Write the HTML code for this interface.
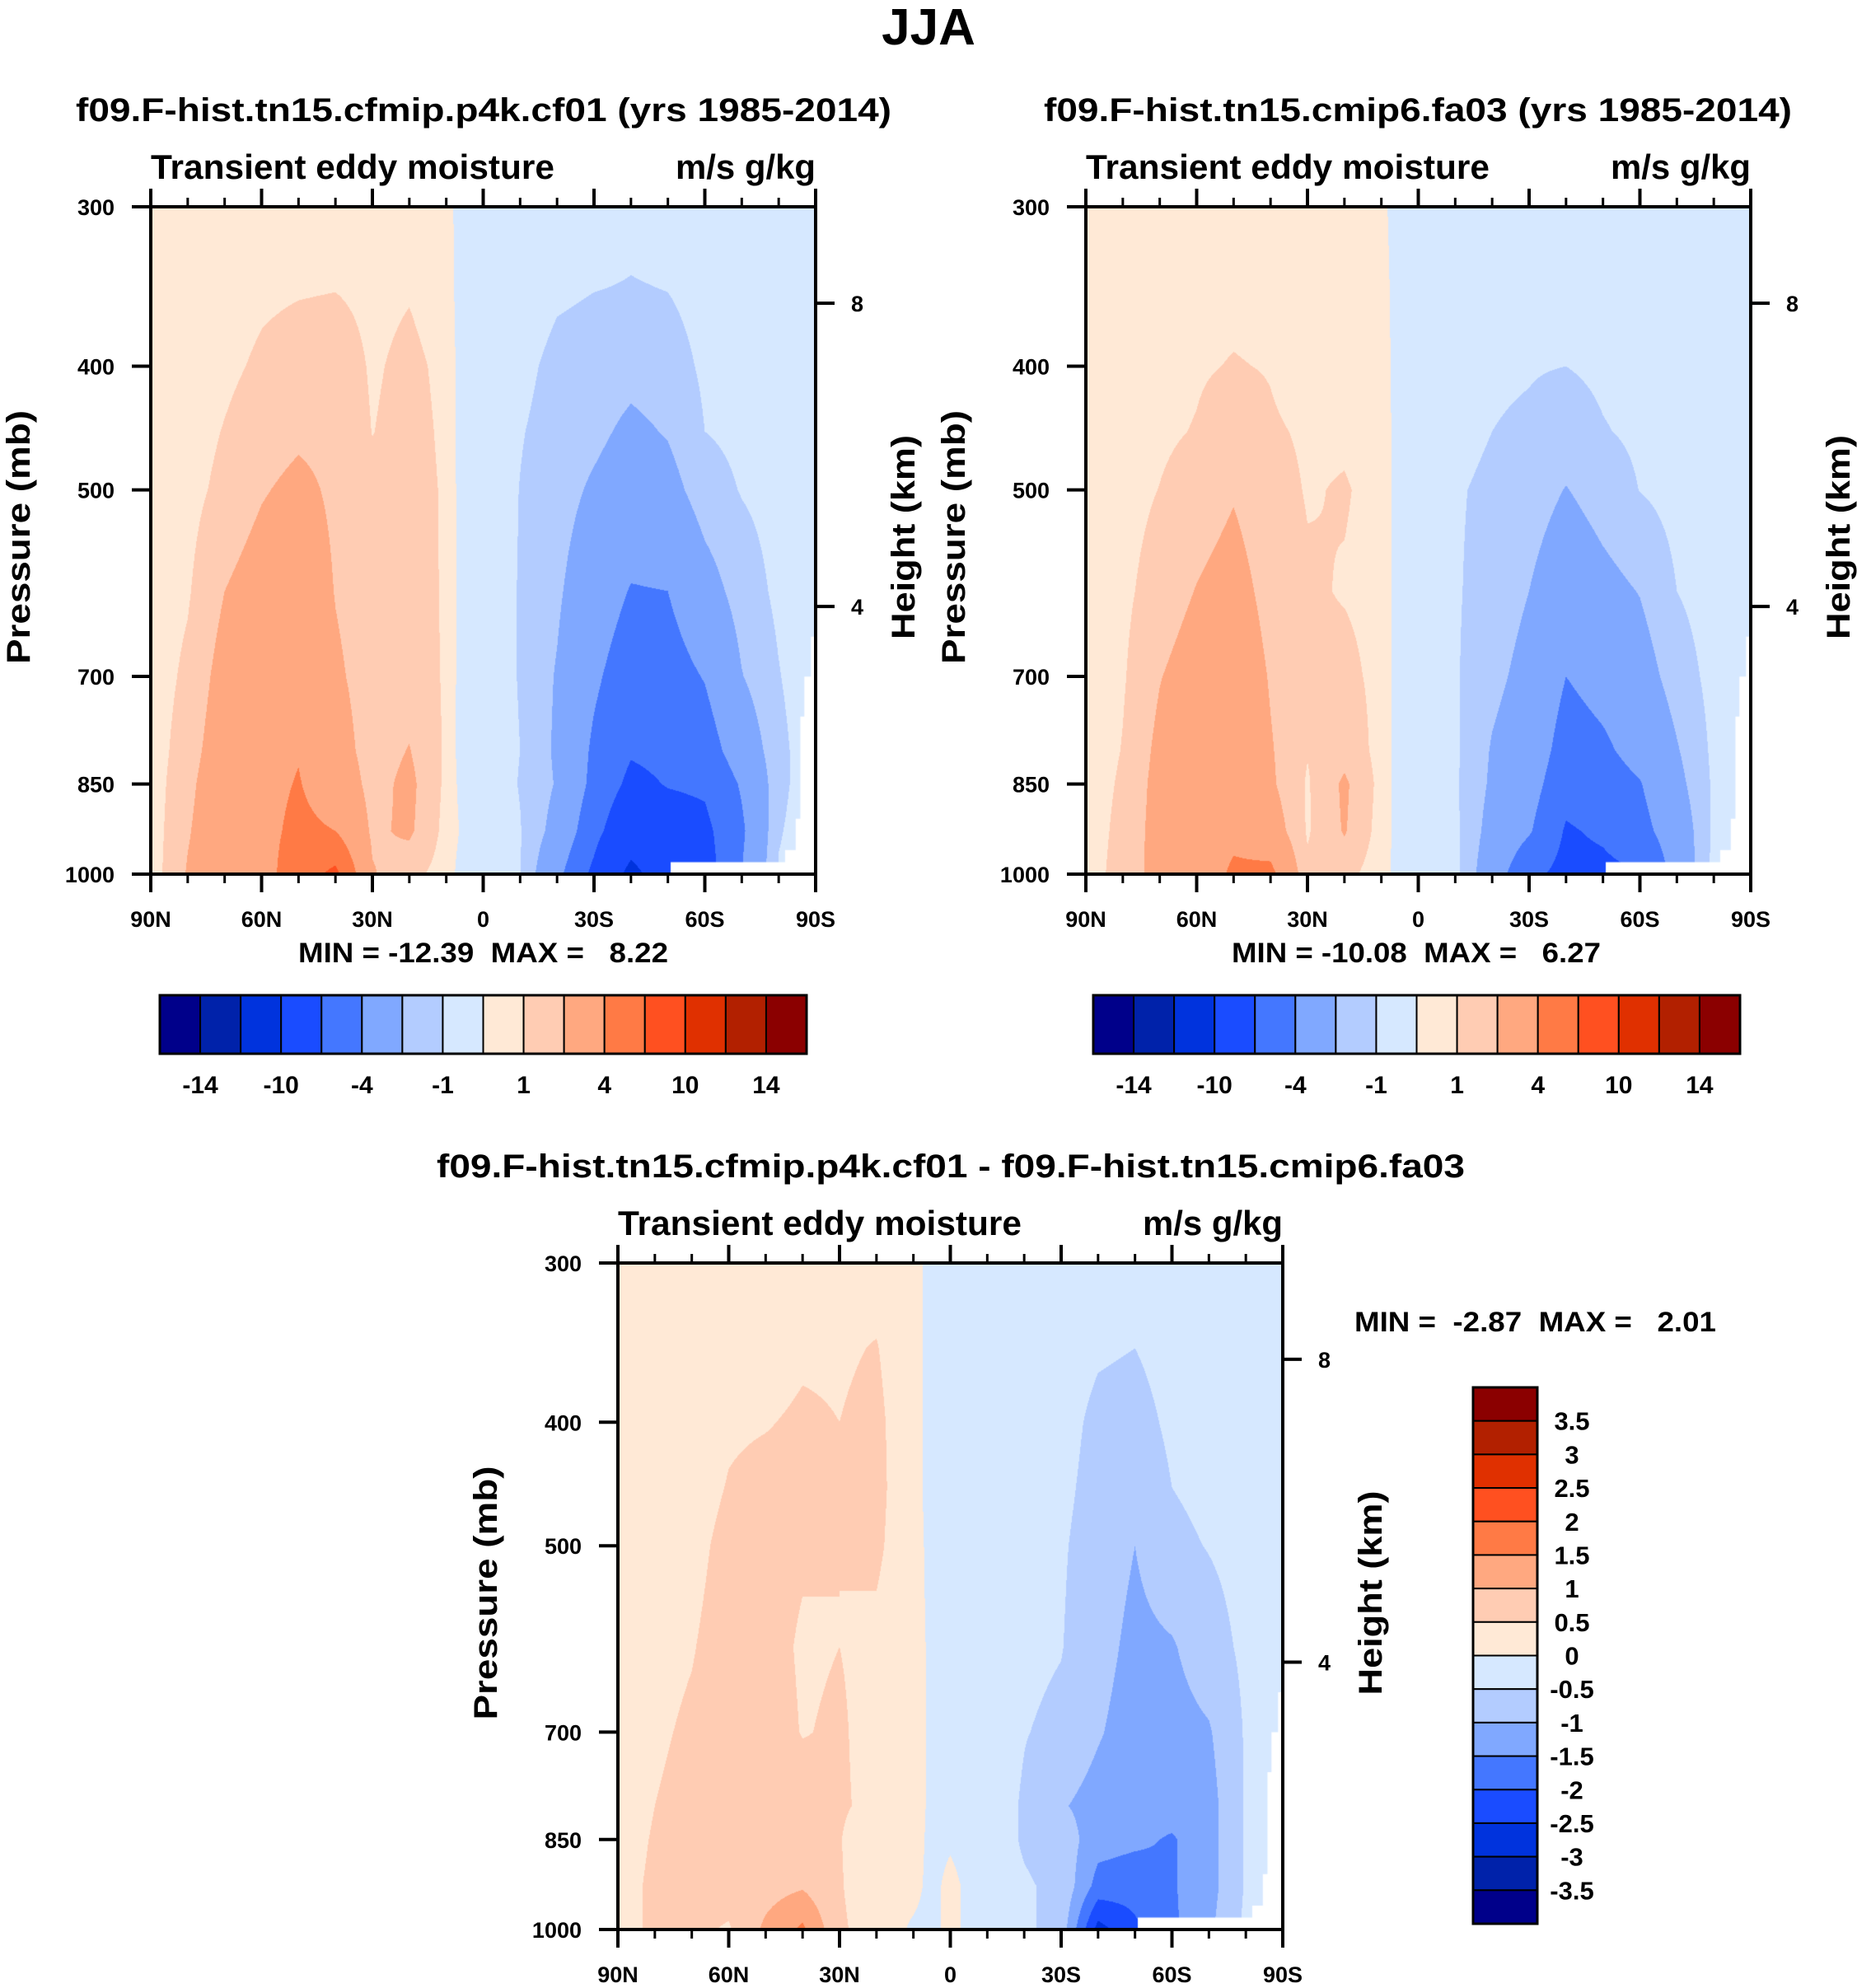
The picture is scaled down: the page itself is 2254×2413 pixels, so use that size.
<!DOCTYPE html>
<html><head><meta charset="utf-8">
<style>
html,body{margin:0;padding:0;background:#fff;}
#root{position:relative;width:2254px;height:2413px;overflow:hidden;background:#fff;font-family:"Liberation Sans",sans-serif;}
canvas{position:absolute;}
svg{position:absolute;left:0;top:0;}
text{font-family:"Liberation Sans",sans-serif;font-weight:bold;fill:#000;white-space:pre;}
</style></head>
<body>
<div id="root">
<canvas id="c1"></canvas>
<canvas id="c2"></canvas>
<canvas id="c3"></canvas>
<svg id="ov" width="2254" height="2413"></svg>
</div>
<script>
// ---- data ----
const lats = [90,80,70,60,50,40,30,20,10,5,0,-10,-20,-30,-40,-50,-60,-70,-80,-90];
const pressures = [300,350,400,450,500,600,700,800,850,925,1000];
const pressureTicks = [300,400,500,700,850,1000];
const heightTicks = [8,4];
const heightTickPressures = [357,617];
const latTicks = [90,60,30,0,-30,-60,-90];
const latTickLabels = ["90N","60N","30N","0","30S","60S","90S"];
const levelsMain = [-14,-12,-10,-6,-4,-2,-1,0,1,2,4,6,10,12,14];
const levelsMainLabels = ["-14","-10","-4","-1","1","4","10","14"];
const levelsDiff = [-3.5,-3,-2.5,-2,-1.5,-1,-0.5,0,0.5,1,1.5,2,2.5,3,3.5];
const levelsDiffLabels = ["-3.5","-3","-2.5","-2","-1.5","-1","-0.5","0","0.5","1","1.5","2","2.5","3","3.5"];
const colors16 = ["#00008A","#0022AA","#0033DD","#1A4CFF","#4477FF","#80A8FF","#B3CCFF","#D6E8FF","#FFE9D6","#FFCCB3","#FFA880","#FF7A45","#FF5020","#E03000","#B22000","#8B0000"];

// values per latitude column (matching lats), each listing pressures 300..1000
const cf01 = [
 [0.5,0.5,0.5,0.5,0.5,0.5,0.5,0.5,0.5,0.5,0.5],
 [0.3,0.4,0.5,0.6,0.7,0.9,1.2,1.5,1.7,1.9,2.1],
 [0.4,0.6,0.8,1.05,1.25,2.0,2.5,2.8,3.0,3.0,2.8],
 [0.6,0.85,1.15,1.5,1.9,2.6,3.2,3.5,3.5,3.5,3.3],
 [0.7,0.95,1.4,1.8,2.3,3.0,3.5,3.9,4.1,4.4,5.0],
 [0.7,1.0,1.5,1.7,1.8,1.95,2.2,2.6,3.0,4.0,6.5],
 [0.6,0.8,0.9,0.98,1.2,1.4,1.5,1.5,1.6,1.8,2.1],
 [0.6,0.95,1.2,1.3,1.35,1.4,1.5,2.05,2.3,2.2,1.3],
 [0.5,0.6,0.8,0.85,0.9,0.9,0.9,0.85,0.8,0.7,0.6],
 [-0.8,-0.8,-0.8,-0.8,-0.8,-0.8,-0.8,-0.8,-0.6,-0.3,-0.7],
 [-0.5,-0.5,-0.5,-0.5,-0.5,-0.5,-0.5,-0.5,-0.4,-0.2,-0.3],
 [-0.5,-0.6,-0.8,-0.95,-1.02,-1.05,-1.05,-1.0,-1.05,-0.95,-0.95],
 [-0.6,-0.9,-1.2,-1.3,-1.5,-1.8,-2.1,-2.2,-2.1,-2.5,-3.5],
 [-0.6,-1.0,-1.3,-1.7,-2.2,-3.0,-3.7,-4.3,-4.5,-5.3,-6.5],
 [-0.8,-1.05,-1.6,-2.3,-2.8,-4.1,-5.0,-5.8,-6.5,-8.0,-11.0],
 [-0.7,-1.0,-1.4,-1.9,-2.5,-4.0,-4.8,-5.5,-5.9,-7.0,-8.0],
 [-0.5,-0.7,-0.85,-1.0,-1.4,-2.6,-3.9,-4.9,-5.7,-6.5,-7.0],
 [-0.4,-0.5,-0.65,-0.8,-0.95,-1.5,-2.05,-3.0,-3.8,-4.3,-4.0],
 [-0.3,-0.4,-0.5,-0.6,-0.7,-0.8,-1.05,-1.3,-1.3,-1.1,-0.9],
 [-0.3,-0.3,-0.3,-0.3,-0.3,-0.3,-0.3,-0.3,-0.3,-0.3,-0.3]
];
const fa03 = [
 [0.3,0.3,0.3,0.3,0.3,0.3,0.3,0.3,0.3,0.3,0.3],
 [0.3,0.4,0.5,0.6,0.7,0.8,0.9,1.05,1.2,1.4,1.6],
 [0.4,0.5,0.7,0.85,1.02,1.4,1.95,2.3,2.4,2.4,2.3],
 [0.5,0.7,0.9,1.05,1.4,2.05,2.6,2.9,3.0,3.0,2.9],
 [0.6,0.8,1.05,1.5,1.9,2.5,3.0,3.3,3.4,3.6,4.3],
 [0.5,0.7,0.95,1.1,1.3,1.6,1.9,2.1,2.2,2.8,4.5],
 [0.5,0.6,0.6,0.9,0.95,1.1,1.1,1.05,0.9,0.9,1.2],
 [0.5,0.7,0.8,0.9,1.05,0.95,1.2,1.6,2.2,2.1,1.3],
 [0.3,0.5,0.6,0.7,0.8,0.8,0.8,0.7,0.7,0.6,0.5],
 [-0.6,-0.6,-0.6,-0.6,-0.6,-0.6,-0.6,-0.6,-0.6,-0.5,-0.5],
 [-0.3,-0.3,-0.3,-0.4,-0.5,-0.5,-0.5,-0.5,-0.5,-0.4,-0.4],
 [-0.3,-0.4,-0.5,-0.7,-0.9,-0.9,-0.9,-0.85,-0.85,-0.8,-0.7],
 [-0.5,-0.7,-0.9,-1.0,-1.2,-1.4,-1.7,-2.1,-2.2,-2.5,-3.0],
 [-0.6,-0.8,-0.95,-1.1,-1.4,-2.0,-2.4,-2.8,-3.2,-3.8,-5.5],
 [-0.6,-0.8,-1.0,-1.4,-2.05,-3.0,-4.0,-4.8,-5.3,-6.2,-6.6],
 [-0.5,-0.7,-0.85,-1.05,-1.5,-2.4,-3.4,-4.3,-4.8,-5.7,-6.5],
 [-0.4,-0.6,-0.75,-0.85,-0.98,-1.95,-2.6,-3.4,-4.1,-4.6,-6.1],
 [-0.3,-0.4,-0.5,-0.6,-0.7,-1.0,-1.5,-2.1,-2.4,-3.0,-3.3],
 [-0.3,-0.35,-0.4,-0.45,-0.5,-0.6,-0.7,-0.8,-0.85,-0.8,-0.7],
 [-0.3,-0.3,-0.3,-0.3,-0.3,-0.3,-0.3,-0.3,-0.3,-0.3,-0.3]
];
const diffVals = [
 [0.2,0.2,0.2,0.2,0.2,0.2,0.2,0.2,0.25,0.3,0.3],
 [0.15,0.2,0.25,0.3,0.35,0.4,0.45,0.5,0.55,0.6,0.6],
 [0.2,0.25,0.3,0.35,0.4,0.48,0.55,0.6,0.65,0.7,0.6],
 [0.2,0.3,0.45,0.52,0.6,0.65,0.65,0.7,0.7,0.7,0.45],
 [0.2,0.35,0.48,0.6,0.65,0.65,0.7,0.75,0.8,0.8,1.1],
 [0.3,0.45,0.55,0.6,0.55,0.45,0.48,0.7,0.9,0.95,1.6],
 [0.3,0.45,0.5,0.52,0.5,0.5,0.55,0.55,0.52,0.55,0.6],
 [0.35,0.52,0.6,0.62,0.58,0.4,0.35,0.4,0.2,0.1,0.2],
 [0.2,0.2,0.2,0.2,0.2,0.2,0.2,0.2,0.15,0.1,-0.05],
 [-0.2,-0.2,-0.2,-0.2,-0.15,-0.1,-0.1,-0.1,-0.1,-0.1,-0.1],
 [-0.2,-0.2,-0.2,-0.15,-0.1,-0.1,-0.1,-0.1,-0.05,0.1,0.1],
 [-0.25,-0.25,-0.25,-0.25,-0.25,-0.25,-0.25,-0.25,-0.25,-0.25,-0.25],
 [-0.25,-0.25,-0.3,-0.3,-0.35,-0.4,-0.48,-0.55,-0.55,-0.45,-0.4],
 [-0.3,-0.3,-0.35,-0.4,-0.45,-0.48,-0.6,-0.95,-0.7,-0.6,-0.7],
 [-0.3,-0.45,-0.6,-0.65,-0.7,-0.8,-0.95,-1.2,-1.3,-1.7,-2.7],
 [-0.35,-0.5,-0.65,-0.8,-1.0,-1.15,-1.25,-1.3,-1.4,-1.8,-2.1],
 [-0.25,-0.35,-0.42,-0.5,-0.6,-1.05,-1.2,-1.3,-1.55,-1.55,-1.6],
 [-0.2,-0.25,-0.3,-0.4,-0.48,-0.7,-1.05,-1.2,-1.2,-1.2,-1.1],
 [-0.15,-0.2,-0.25,-0.3,-0.35,-0.4,-0.45,-0.45,-0.45,-0.45,-0.4],
 [-0.15,-0.15,-0.15,-0.15,-0.15,-0.15,-0.15,-0.15,-0.15,-0.15,-0.15]
];

// ---- layout ----
const panels = [
 {id:"c1", name:"cf01", L:183, R:990, T:251, B:1061, vals:cf01, levels:levelsMain},
 {id:"c2", name:"fa03", L:1318, R:2125, T:251, B:1061, vals:fa03, levels:levelsMain},
 {id:"c3", name:"diff", L:750, R:1557, T:1533, B:2342, vals:diffVals, levels:levelsDiff}
];
const NS = "http://www.w3.org/2000/svg";
const ov = document.getElementById("ov");
function mk(tag, attrs, txt){
  const e = document.createElementNS(NS, tag);
  for (const k in attrs) e.setAttribute(k, attrs[k]);
  if (txt !== undefined) e.textContent = txt;
  ov.appendChild(e);
  return e;
}
function hexRgb(h){return [parseInt(h.substr(1,2),16),parseInt(h.substr(3,2),16),parseInt(h.substr(5,2),16)];}
const rgb16 = colors16.map(hexRgb);
const LOGR = Math.log(1000/300);
function yOf(p, P){ return P.T + (P.B-P.T)*Math.log(p/300)/LOGR; }
function xOf(lat, P){ return P.L + (P.R-P.L)*(90-lat)/180; }

function sample(vals, fx, fy){
  const lat = 90-180*fx;
  let c0 = lats.length-2;
  for (let c=0;c<lats.length-1;c++){ if (lat >= lats[c+1]) { c0=c; break; } }
  const tx = (lats[c0]-lat)/(lats[c0]-lats[c0+1]);
  const p = 300*Math.exp(fy*LOGR), lp = Math.log(p);
  let r0 = pressures.length-2;
  for (let r=0;r<pressures.length-1;r++){ if (p <= pressures[r+1]) { r0=r; break; } }
  const ty = (lp-Math.log(pressures[r0]))/(Math.log(pressures[r0+1])-Math.log(pressures[r0]));
  const a = vals[c0][r0]*(1-tx)+vals[c0+1][r0]*tx;
  const b = vals[c0][r0+1]*(1-tx)+vals[c0+1][r0+1]*tx;
  return a*(1-ty)+b*ty;
}
function colorIdx(v, levels){ let i=0; while(i<levels.length && v>=levels[i]) i++; return i; }

// mask (below-ground) in plot fractions
const maskPoly = [[0.782,0.982],[0.954,0.982],[0.954,0.964],[0.97,0.964],[0.97,0.917],[0.977,0.917],[0.977,0.764],[0.983,0.764],[0.983,0.704],[0.993,0.704],[0.993,0.644],[1,0.644],[1,1],[0.782,1]];

panels.forEach(P=>{
  const cv = document.getElementById(P.id);
  const W = P.R-P.L, H = P.B-P.T;
  cv.width = W; cv.height = H;
  cv.style.left = P.L+"px"; cv.style.top = P.T+"px";
  const ctx = cv.getContext("2d");
  const img = ctx.createImageData(W,H);
  for (let y=0;y<H;y++){
    const fy = (y+0.5)/H;
    for (let x=0;x<W;x++){
      const v = sample(P.vals,(x+0.5)/W,fy);
      const c = rgb16[colorIdx(v,P.levels)];
      const k = (y*W+x)*4;
      img.data[k]=c[0]; img.data[k+1]=c[1]; img.data[k+2]=c[2]; img.data[k+3]=255;
    }
  }
  ctx.putImageData(img,0,0);
  ctx.fillStyle="#fff";
  ctx.beginPath();
  maskPoly.forEach((pt,i)=>{ const X=pt[0]*W, Y=pt[1]*H; if(i)ctx.lineTo(X,Y); else ctx.moveTo(X,Y); });
  ctx.closePath(); ctx.fill();

  const fr = mk("rect",{x:P.L,y:P.T,width:W,height:H,fill:"none",stroke:"#000","stroke-width":4});
  
  
  for (let lat=90; lat>=-90; lat-=10){
    const major = (lat%30===0);
    const len = major?22:11;
    const x = xOf(lat,P);
    const tb = mk("line",{x1:x,y1:P.B,x2:x,y2:P.B+len,stroke:"#000","stroke-width":major?4:3});
    
    
    const tt = mk("line",{x1:x,y1:P.T,x2:x,y2:P.T-len,stroke:"#000","stroke-width":major?4:3});
    
    
  }
  latTicks.forEach((lat,i)=>{
    const t = mk("text",{x:xOf(lat,P),y:P.B+64,"font-size":27,"text-anchor":"middle"},latTickLabels[i]);
    
    
  });
  pressureTicks.forEach(p=>{
    const y = yOf(p,P);
    const l = mk("line",{x1:P.L-23,y1:y,x2:P.L,y2:y,stroke:"#000","stroke-width":4});
    
    
    const t = mk("text",{x:P.L-44,y:y+10,"font-size":27,"text-anchor":"end"},String(p));
    
    
  });
  heightTicks.forEach((h,i)=>{
    const y = yOf(heightTickPressures[i],P);
    const l = mk("line",{x1:P.R,y1:y,x2:P.R+23,y2:y,stroke:"#000","stroke-width":4});
    
    
    const t = mk("text",{x:P.R+43,y:y+10,"font-size":27},String(h));
    
    
  });
  const mid = (P.T+P.B)/2;
  const yl = mk("text",{x:0,y:0,"font-size":40,"text-anchor":"middle",textLength:308,lengthAdjust:"spacingAndGlyphs",transform:"translate("+(P.L-147)+","+(mid-4)+") rotate(-90)"},"Pressure (mb)");
  
  
  const hl = mk("text",{x:0,y:0,"font-size":40,"text-anchor":"middle",textLength:248,lengthAdjust:"spacingAndGlyphs",transform:"translate("+(P.R+120)+","+(mid-4)+") rotate(-90)"},"Height (km)");
  
  
  const lt = mk("text",{x:P.L,y:P.T-34,"font-size":42,textLength:490,lengthAdjust:"spacingAndGlyphs"},"Transient eddy moisture");
  
  
  const rt = mk("text",{x:P.R-170,y:P.T-34,"font-size":42,textLength:170,lengthAdjust:"spacingAndGlyphs"},"m/s g/kg");
  
  
});

const t0 = mk("text",{x:1127,y:54,"font-size":62,"text-anchor":"middle"},"JJA");


const t1 = mk("text",{x:92,y:147,"font-size":40,textLength:990,lengthAdjust:"spacingAndGlyphs"},"f09.F-hist.tn15.cfmip.p4k.cf01 (yrs 1985-2014)");


const t2 = mk("text",{x:1267,y:147,"font-size":40,textLength:908,lengthAdjust:"spacingAndGlyphs"},"f09.F-hist.tn15.cmip6.fa03 (yrs 1985-2014)");


const t3 = mk("text",{x:530,y:1429,"font-size":40,textLength:1248,lengthAdjust:"spacingAndGlyphs"},"f09.F-hist.tn15.cfmip.p4k.cf01 - f09.F-hist.tn15.cmip6.fa03");


const m1 = mk("text",{x:362,y:1168,"font-size":34,textLength:449,lengthAdjust:"spacingAndGlyphs"},"MIN = -12.39  MAX =   8.22");


const m2 = mk("text",{x:1495,y:1168,"font-size":34,textLength:448,lengthAdjust:"spacingAndGlyphs"},"MIN = -10.08  MAX =   6.27");


const m3 = mk("text",{x:1644,y:1616,"font-size":34,textLength:439,lengthAdjust:"spacingAndGlyphs"},"MIN =  -2.87  MAX =   2.01");



[[194,979],[1327,2112]].forEach((cb,ci)=>{
  const bw = (cb[1]-cb[0])/16;
  colors16.forEach((c,i)=>{
    const r = mk("rect",{x:cb[0]+i*bw,y:1208,width:bw,height:71,fill:c,stroke:"#000","stroke-width":2});
    
    
  });
  const fr = mk("rect",{x:cb[0],y:1208,width:cb[1]-cb[0],height:71,fill:"none",stroke:"#000","stroke-width":3});
  
  
  levelsMainLabels.forEach((lab,i)=>{
    const t = mk("text",{x:cb[0]+(1+2*i)*bw,y:1327,"font-size":30,"text-anchor":"middle"},lab);
    
    
  });
});
(function(){
  const x0=1788, x1=1866, y0=1684, y1=2335, bh=(y1-y0)/16;
  for (let i=0;i<16;i++){
    const r = mk("rect",{x:x0,y:y0+i*bh,width:x1-x0,height:bh,fill:colors16[15-i],stroke:"#000","stroke-width":2});
    
    
  }
  const fr = mk("rect",{x:x0,y:y0,width:x1-x0,height:y1-y0,fill:"none",stroke:"#000","stroke-width":3});
  
  
  for (let i=0;i<15;i++){
    const lab = levelsDiffLabels[14-i];
    const t = mk("text",{x:1908,y:y0+(i+1)*bh+11,"font-size":31,"text-anchor":"middle"},lab);
    
    
  }
})();
</script>
</body></html>
